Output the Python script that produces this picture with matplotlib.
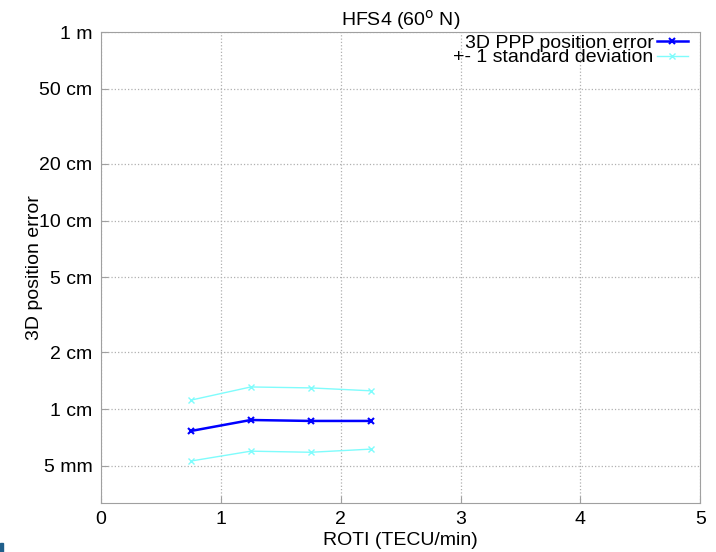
import matplotlib
matplotlib.use("Agg")
import matplotlib.pyplot as plt
from matplotlib.patches import Rectangle

plt.rcParams['font.family'] = ['Liberation Sans', 'DejaVu Sans']

# ROTI bins (TECU/min) and 3D error in cm
roti = [0.75, 1.25, 1.75, 2.25]
err_mean = [0.765, 0.875, 0.865, 0.865]
err_upper = [1.115, 1.31, 1.295, 1.25]
err_lower = [0.53, 0.598, 0.59, 0.613]

ytick_vals = [0.5, 1, 2, 5, 10, 20, 50, 100]
ytick_labels = ['5 mm', '1 cm', '2 cm', '5 cm', '10 cm', '20 cm', '50 cm', '1 m']
xtick_vals = [0, 1, 2, 3, 4, 5]

fig = plt.figure(figsize=(7.16, 5.52), dpi=100)
ax = fig.add_axes([0.141, 0.089, 0.837, 0.853])

ax.plot(roti, err_mean, color='#0000ff', lw=1.8, marker='x', ms=4, mew=1.5,
        label='3D PPP position error')
ax.plot(roti, err_upper, color='#7ffcfc', lw=1, marker='x', ms=4,
        label='+- 1 standard deviation')
ax.plot(roti, err_lower, color='#7ffcfc', lw=1, marker='x', ms=4)

ax.set_yscale('log')
ax.set_xlim(0, 5)
ax.set_ylim(0.318, 100)
ax.set_yticks(ytick_vals)
ax.set_yticklabels(ytick_labels)
ax.minorticks_off()
ax.set_xticks(xtick_vals)
ax.tick_params(direction='in', length=5, color='#a0a0a0', labelsize=14, pad=6)
ax.grid(True, linestyle=':', color='#b0b0b0', lw=0.9)
for s in ax.spines.values():
    s.set_color('#a0a0a0')

ax.set_xlabel('ROTI (TECU/min)', fontsize=14, labelpad=3)
ax.set_ylabel('3D position error', fontsize=14)
ax.yaxis.set_label_coords(-0.097, 0.5)
ax.set_title('HFS4 (60$^{\\mathrm{o}}$ N)', fontsize=14, pad=1)

ax.legend(loc='upper right', bbox_to_anchor=(0.992, 1.012), frameon=False,
          markerfirst=False, fontsize=14, handlelength=1.6, handletextpad=0.15,
          labelspacing=-0.15, borderaxespad=0.0)

fig.patches.append(Rectangle((0, 0), 0.004, 0.016, transform=fig.transFigure,
                             color='#1f5f8b', figure=fig))

plt.savefig('out.png', dpi=100)
